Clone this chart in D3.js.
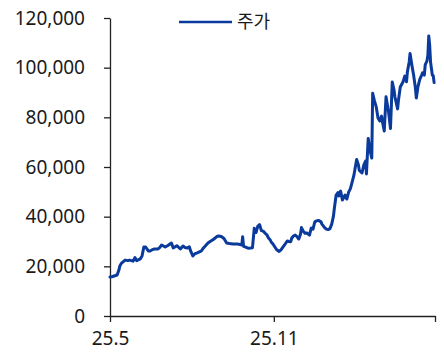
<!DOCTYPE html>
<html>
<head>
<meta charset="utf-8">
<script src="https://cdn.jsdelivr.net/npm/d3@7"></script>
<style>
  html, body { margin: 0; padding: 0; background: #fff; }
  svg { display: block; }
  text { font-family: "Noto Sans", "Noto Sans CJK KR", sans-serif; fill: #1a1a1a; }
</style>
</head>
<body>
<svg id="chart" width="444" height="356"></svg>
<script>
// Share price series
const seriesName = "주가";
const dates = [
  "2025-05-01","2025-05-03","2025-05-09","2025-05-11","2025-05-12","2025-05-14","2025-05-18","2025-05-21","2025-05-23","2025-05-27",
  "2025-05-29","2025-05-31","2025-06-04","2025-06-06","2025-06-08","2025-06-10","2025-06-13","2025-06-15","2025-06-17","2025-06-20",
  "2025-06-24","2025-06-26","2025-06-28","2025-07-02","2025-07-05","2025-07-09","2025-07-11","2025-07-15","2025-07-19","2025-07-22",
  "2025-07-24","2025-07-27","2025-07-29","2025-07-31","2025-08-02","2025-08-04","2025-08-07","2025-08-10","2025-08-12","2025-08-14",
  "2025-08-17","2025-08-19","2025-08-21","2025-08-25","2025-08-29","2025-08-31","2025-09-03","2025-09-06","2025-09-09","2025-09-12",
  "2025-09-16","2025-09-21","2025-09-24","2025-09-26","2025-09-27","2025-09-28","2025-10-01","2025-10-03","2025-10-06","2025-10-08",
  "2025-10-10","2025-10-12","2025-10-14","2025-10-16","2025-10-18","2025-10-20","2025-10-22","2025-10-24","2025-10-26","2025-10-28",
  "2025-10-29","2025-10-31","2025-11-02","2025-11-04","2025-11-07","2025-11-09","2025-11-11","2025-11-13","2025-11-16","2025-11-18",
  "2025-11-20","2025-11-21","2025-11-23","2025-11-25","2025-11-27","2025-11-29","2025-12-01","2025-12-02","2025-12-04","2025-12-06",
  "2025-12-08","2025-12-11","2025-12-13","2025-12-15","2025-12-17","2025-12-19","2025-12-21","2025-12-24","2025-12-25","2025-12-28",
  "2025-12-30","2026-01-01","2026-01-03","2026-01-05","2026-01-07","2026-01-08","2026-01-10","2026-01-12","2026-01-13","2026-01-15",
  "2026-01-17","2026-01-20","2026-01-22","2026-01-24","2026-01-26","2026-01-28","2026-01-30","2026-02-02","2026-02-04","2026-02-05",
  "2026-02-08","2026-02-10","2026-02-12","2026-02-13","2026-02-15","2026-02-17","2026-02-19","2026-02-20","2026-02-22","2026-02-24",
  "2026-02-26","2026-02-28","2026-03-02","2026-03-03","2026-03-05","2026-03-07","2026-03-10","2026-03-12","2026-03-14","2026-03-16",
  "2026-03-17","2026-03-20","2026-03-21","2026-03-23","2026-03-26","2026-03-28","2026-03-30","2026-03-31","2026-04-02","2026-04-03",
  "2026-04-05","2026-04-07","2026-04-09","2026-04-10","2026-04-12","2026-04-14","2026-04-16","2026-04-17","2026-04-19","2026-04-20",
  "2026-04-22","2026-04-23","2026-04-24","2026-04-25","2026-04-26","2026-04-28","2026-04-29","2026-04-30"
];
const prices = [
  15700,15800,16500,18500,20100,21300,22500,22300,22500,22100,
  23500,22300,23000,24200,27800,27800,26200,26200,26600,27000,
  27000,27600,28600,27800,28400,29400,27400,28300,27000,28200,
  27600,27400,27900,25800,24200,25000,25400,25900,26400,27400,
  28600,29400,29900,30800,32000,32200,32000,31200,29400,29200,
  29000,29000,28800,28600,31900,28000,27600,27300,27400,27500,
  35300,33600,36200,36800,34400,34200,33400,32800,31400,30600,
  29800,29000,27900,26800,26000,26600,27600,28600,30200,30000,
  29900,31300,32200,32600,32000,31000,33000,35600,34200,33300,
  33400,32600,35400,35000,37900,38300,38500,37900,37000,35600,
  35000,34800,35200,37000,40300,43500,48700,49700,48300,50300,
  46700,48700,47100,49900,51300,54000,56800,63000,60800,58600,
  57600,60800,62400,57200,71500,66800,63600,89700,86600,84200,
  79700,78500,80500,78100,74500,88300,81700,75500,94200,91000,
  88200,83400,87000,92200,94200,96600,94300,98300,102300,105700,
  101100,97000,91800,87800,92600,95400,97000,97900,97000,101100,
  102700,105100,112800,109100,102300,97000,96800,94000
];
// Axis settings
const xDomain = ["2025-05-01", "2026-05-01"];
const xTickDates = ["2025-05-01", "2025-11-01", "2026-05-01"];
const xTickLabels = ["25.5", "25.11", ""];
const yTicks = [0, 20000, 40000, 60000, 80000, 100000, 120000];

const W = 444, H = 356;
const margin = { top: 18, right: 9, bottom: 40, left: 110 };
const parse = d3.utcParse("%Y-%m-%d");
const data = dates.map((d, i) => ({ date: parse(d), value: prices[i] }));

const svg = d3.select("#chart");
const x = d3.scaleUtc().domain(xDomain.map(parse)).range([margin.left, W - margin.right]);
const y = d3.scaleLinear().domain([0, 120000]).range([H - margin.bottom, margin.top]);

const axisColor = "#222";

// Y axis
const yAxis = svg.append("g")
  .attr("transform", `translate(${margin.left},0)`)
  .call(d3.axisLeft(y).tickValues(yTicks).tickSize(6).tickSizeOuter(0).tickPadding(19)
    .tickFormat(d3.format(",")));
yAxis.selectAll("path, line").attr("stroke", axisColor).attr("stroke-width", 1.3);
yAxis.selectAll("text").attr("font-size", 19).attr("fill", "#1a1a1a")
  .style("font-family", '"Noto Sans", sans-serif');

// X axis
const xTickParsed = xTickDates.map(parse);
const xAxis = svg.append("g")
  .attr("transform", `translate(0,${H - margin.bottom})`)
  .call(d3.axisBottom(x).tickValues(xTickParsed).tickSize(6).tickSizeOuter(0).tickPadding(10)
    .tickFormat((d, i) => xTickLabels[i]));
xAxis.selectAll("path, line").attr("stroke", axisColor).attr("stroke-width", 1.3);
xAxis.selectAll("text").attr("font-size", 19).attr("fill", "#1a1a1a")
  .style("font-family", '"Noto Sans", sans-serif');

// Price line
const lineColor = "#0a3a9c";
const line = d3.line().x(d => x(d.date)).y(d => y(d.value));
svg.append("path")
  .datum(data)
  .attr("d", line)
  .attr("fill", "none")
  .attr("stroke", lineColor)
  .attr("stroke-width", 3)
  .attr("stroke-linejoin", "round")
  .attr("stroke-linecap", "round");

// Legend
const legend = svg.append("g").attr("transform", "translate(179,22)");
legend.append("line")
  .attr("x1", 0).attr("x2", 53).attr("y1", 0).attr("y2", 0)
  .attr("stroke", lineColor).attr("stroke-width", 2.5);
legend.append("text")
  .attr("x", 58).attr("y", 0).attr("dy", "0.35em")
  .attr("font-size", 18)
  .style("font-family", '"Noto Sans CJK KR", sans-serif')
  .text(seriesName);
</script>
</body>
</html>
